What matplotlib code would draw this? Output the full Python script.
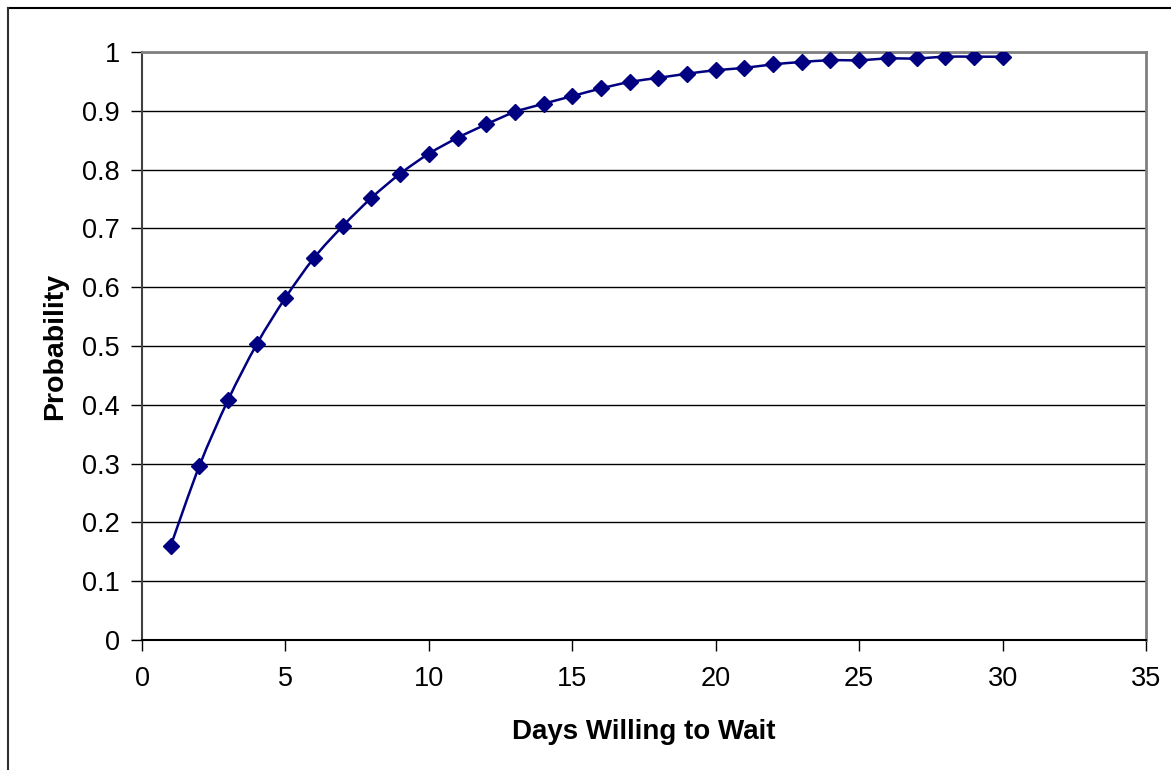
import matplotlib.pyplot as plt
from matplotlib.path import Path
from matplotlib.patches import PathPatch
import numpy as np

plt.rcParams['font.family'] = ['Liberation Sans', 'DejaVu Sans']

# days willing to wait vs probability
days = [1, 2, 3, 4, 5, 6, 7, 8, 9, 10, 11, 12, 13, 14, 15,
        16, 17, 18, 19, 20, 21, 22, 23, 24, 25, 26, 27, 28, 29, 30]
prob = [0.160, 0.296, 0.408, 0.503, 0.582, 0.650, 0.704, 0.752, 0.793, 0.827,
        0.854, 0.877, 0.898, 0.912, 0.925, 0.938, 0.949, 0.956, 0.963, 0.969,
        0.973, 0.979, 0.983, 0.986, 0.986, 0.989, 0.989, 0.992, 0.992, 0.992]
x_ticks = [0, 5, 10, 15, 20, 25, 30, 35]
y_ticks = [0, 0.1, 0.2, 0.3, 0.4, 0.5, 0.6, 0.7, 0.8, 0.9, 1]
y_labels = ['0', '0.1', '0.2', '0.3', '0.4', '0.5', '0.6', '0.7', '0.8', '0.9', '1']

navy = '#000080'

fig = plt.figure(figsize=(11.71, 7.70), dpi=100)
ax = fig.add_axes([142 / 1171, 1 - 640 / 770, (1146 - 142) / 1171, (640 - 52) / 770])

# smoothed line like excel (catmull-rom as cubic bezier)
pts = np.column_stack([days, prob])
verts = [pts[0]]
codes = [Path.MOVETO]
n = len(pts)
for i in range(n - 1):
    p0 = pts[max(i - 1, 0)]
    p1 = pts[i]
    p2 = pts[i + 1]
    p3 = pts[min(i + 2, n - 1)]
    verts += [p1 + (p2 - p0) / 6, p2 - (p3 - p1) / 6, p2]
    codes += [Path.CURVE4] * 3
ax.add_patch(PathPatch(Path(verts, codes), facecolor='none', edgecolor=navy, lw=1.8, zorder=3))
ax.plot(days, prob, linestyle='none', marker='D', markersize=8.5, color=navy, zorder=4)

ax.set_xlim(0, 35)
ax.set_ylim(0, 1)
ax.set_xticks(x_ticks)
ax.set_yticks(y_ticks)
ax.set_yticklabels(y_labels)
ax.tick_params(labelsize=19.5, length=8, width=1, direction='out', color='black')
ax.tick_params(axis='x', pad=11)
ax.tick_params(axis='y', pad=8)
ax.grid(axis='y', color='black', lw=1)
ax.set_axisbelow(True)
ax.spines['top'].set_color('#808080')
ax.spines['right'].set_color('#808080')
ax.spines['top'].set_linewidth(2)
ax.spines['right'].set_linewidth(2)
ax.spines['left'].set_color('#404040')
ax.spines['left'].set_linewidth(1.5)
ax.spines['bottom'].set_color('black')
ax.spines['bottom'].set_linewidth(1.5)

ax.set_xlabel('Days Willing to Wait', fontsize=20, fontweight='bold', labelpad=19)
ax.set_ylabel('Probability', fontsize=20.5, fontweight='bold', labelpad=10)

# outer chart border (top and left edges visible)
fig.add_artist(plt.Line2D([8 / 1171, 1], [1 - 8 / 770, 1 - 8 / 770], color='black', lw=1.5))
fig.add_artist(plt.Line2D([8 / 1171, 8 / 1171], [0, 1 - 8 / 770], color='#303030', lw=1.5))

fig.savefig('out.png', dpi=100)
